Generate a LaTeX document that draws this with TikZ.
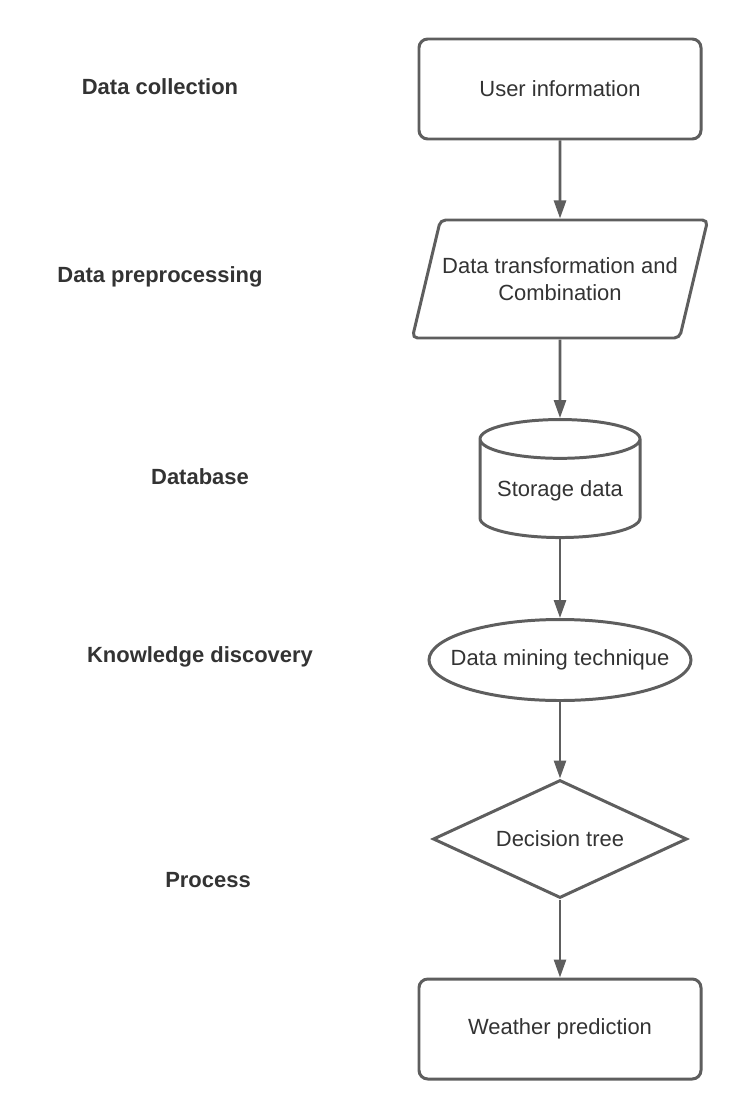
\documentclass[tikz,border=0pt]{standalone}
\usepackage{fontspec}
\setmainfont{Liberation Sans}
\usepackage{xcolor}
\usepackage{tikz}
\usetikzlibrary{shapes,shapes.geometric,shapes.multipart}
\usetikzlibrary{calc,arrows.meta,positioning}
\definecolor{lineGray}{HTML}{5E5E5E}
\definecolor{textGray}{HTML}{333333}

\begin{document}
\begin{tikzpicture}
[-,line width=1.7pt,draw=lineGray,
every node/.style={inner sep=1pt,text=textGray,font=\fontsize{12.5}{15}\selectfont},
box/.style={draw,rectangle,rounded corners=5pt,minimum width=5.64cm,minimum height=2cm},
slanted/.style={draw,trapezium,trapezium left angle=76,trapezium right angle=104,
	trapezium stretches body=true,rounded corners=3pt,inner ysep=20pt,minimum width=5.9cm,minimum height=2.36cm,align=center},
drum/.style={draw,cylinder,shape border rotate=90,aspect=0.3,minimum width=3.2cm,minimum height=2.36cm},
oval/.style={draw,ellipse,minimum width=5.24cm,minimum height=1.62cm,inner ysep=0pt,inner xsep=-0.35cm},
choice/.style={draw,diamond,aspect=2.15,minimum width=5.08cm,minimum height=2.36cm,inner sep=0pt},
stage/.style={font=\fontsize{12.5}{15}\selectfont\bfseries}]
\useasboundingbox (0,0) rectangle (15,-22.4);
% flow
\node[box] (usr) at (11.2,-1.78) {User information};
\node[slanted] (trans) at (11.2,-5.58) {Data transformation and\\Combination};
\node[drum] (store) at (11.2,-9.82) {Storage data};
\node[oval] (mine) at (11.2,-13.2) {Data mining technique};
\node[choice] (tree) at (11.2,-16.78) {Decision tree};
\node[box] (pred) at (11.2,-20.58) {Weather prediction};
% stages
\node[stage] (s1) at (3.2,-1.74) {Data collection};
\node[stage] (s2) at (3.2,-5.54) {Data preprocessing};
\node[stage] (s3) at (4.0,-9.54) {Database};
\node[stage] (s4) at (4.0,-13.14) {Knowledge discovery};
\node[stage] (s5) at (4.16,-17.6) {Process};
\path
\foreach \startNode/\endNode in {usr/trans,trans/store,store/mine,mine/tree,tree/pred}
{
	(\startNode) edge[-{Triangle[length=0.36cm,width=0.24cm]},line width=1.5pt,draw=lineGray] (\endNode)
};
\end{tikzpicture}
\end{document}
